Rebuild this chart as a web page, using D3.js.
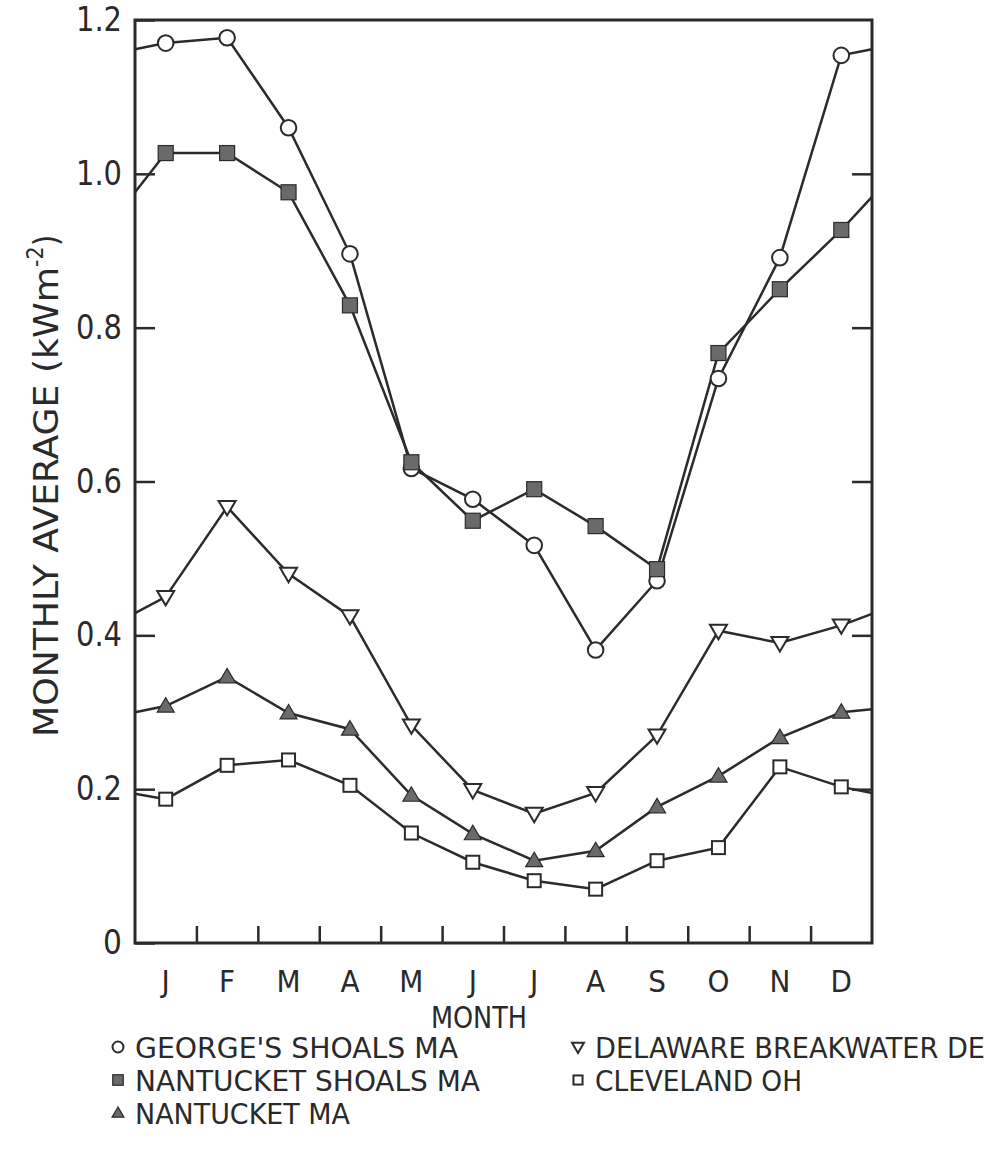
<!DOCTYPE html>
<html>
<head>
<meta charset="utf-8">
<script src="https://cdnjs.cloudflare.com/ajax/libs/d3/7.8.5/d3.min.js"></script>
<style>
  body { margin: 0; background: #fff; }
  text { font-family: "Liberation Sans Narrow", "DejaVu Sans Condensed", sans-serif; fill: #2a2a2a; }
</style>
</head>
<body>
<div id="chart"></div>
<script>
// month initials along the bottom
var months = ["J", "F", "M", "A", "M", "J", "J", "A", "S", "O", "N", "D"];

// monthly averages, kW m-2
var georgesShoals   = [1.170, 1.177, 1.060, 0.896, 0.617, 0.577, 0.517, 0.381, 0.471, 0.734, 0.891, 1.154];
var nantucketShoals = [1.027, 1.027, 0.976, 0.829, 0.625, 0.549, 0.590, 0.542, 0.486, 0.767, 0.850, 0.927];
var delaware        = [0.450, 0.567, 0.480, 0.425, 0.283, 0.199, 0.168, 0.195, 0.270, 0.406, 0.390, 0.413];
var nantucket       = [0.308, 0.346, 0.299, 0.278, 0.192, 0.142, 0.107, 0.120, 0.177, 0.217, 0.267, 0.300];
var cleveland       = [0.187, 0.231, 0.238, 0.205, 0.143, 0.105, 0.081, 0.070, 0.107, 0.124, 0.229, 0.203];

// where each curve meets the left / right frame (same order as seriesNames)
var edgeLeft  = [1.162, 0.976, 0.300, 0.429, 0.194];
var edgeRight = [1.162, 0.970, 0.304, 0.428, 0.195];

var seriesNames = ["GEORGE'S SHOALS MA", "NANTUCKET SHOALS MA", "NANTUCKET MA",
                   "DELAWARE BREAKWATER DE", "CLEVELAND OH"];

var yTicks = [0, 0.2, 0.4, 0.6, 0.8, 1.0, 1.2];
var yTickLabels = ["0", "0.2", "0.4", "0.6", "0.8", "1.0", "1.2"];

var width = 997, height = 1151;
var ink = "#2b2b2b", grayFill = "#6a6a6a";

var svg = d3.select("#chart").append("svg")
  .attr("width", width).attr("height", height);

var x = d3.scaleLinear().domain([0, 12]).range([135, 872]);
var y = d3.scaleLinear().domain([0, 1.2]).range([943, 20]);

// series table (marker type per station)
var marks = ["circle", "squareFill", "triUp", "triDown", "square"];
var series = [georgesShoals, nantucketShoals, nantucket, delaware, cleveland].map(function(v, i){
  return {name: seriesNames[i], values: v, l: edgeLeft[i], r: edgeRight[i], mark: marks[i]};
});

function drawMark(g, type, cx, cy, s) {
  if (type === "circle") {
    g.append("circle").attr("cx", cx).attr("cy", cy).attr("r", 7.8 * s)
      .attr("fill", "#fff").attr("stroke", ink).attr("stroke-width", 2);
  } else if (type === "squareFill" || type === "square") {
    var h = (type === "squareFill" ? 7.5 : 6.5) * s;
    g.append("rect").attr("x", cx - h).attr("y", cy - h)
      .attr("width", 2 * h).attr("height", 2 * h)
      .attr("fill", type === "squareFill" ? grayFill : "#fff")
      .attr("stroke", ink).attr("stroke-width", type === "squareFill" ? 1.2 : 2);
  } else {
    var d = 8.5 * s, up = type === "triUp" ? 1 : -1;
    var pts = [[cx, cy - up * d], [cx - d, cy + up * d * 0.7], [cx + d, cy + up * d * 0.7]];
    g.append("path").attr("d", "M" + pts.join("L") + "Z")
      .attr("fill", type === "triUp" ? grayFill : "#fff")
      .attr("stroke", ink).attr("stroke-width", type === "triUp" ? 1.2 : 2);
  }
}

// curves
var line = d3.line().x(function(d){ return x(d[0]); }).y(function(d){ return y(d[1]); });
series.forEach(function(s){
  var pts = [[0, s.l]];
  s.values.forEach(function(v, i){ pts.push([i + 0.5, v]); });
  pts.push([12, s.r]);
  svg.append("path").attr("d", line(pts))
    .attr("fill", "none").attr("stroke", ink).attr("stroke-width", 2.5);
});
series.forEach(function(s){
  var g = svg.append("g");
  s.values.forEach(function(v, i){ drawMark(g, s.mark, x(i + 0.5), y(v), 1); });
});

// axes: inward ticks on left, right and bottom
svg.append("g").attr("transform", "translate(135,0)")
  .call(d3.axisLeft(y).tickValues(yTicks).tickSize(-20).tickSizeOuter(0).tickPadding(13)
    .tickFormat(function(d, i){ return yTickLabels[i]; }))
  .call(function(g){
    g.select(".domain").remove();
    g.selectAll("line").attr("stroke", ink).attr("stroke-width", 2.5);
    g.selectAll("text").attr("font-size", 33).attr("fill", ink)
      .style("font-family", "'Liberation Sans Narrow','DejaVu Sans Condensed',sans-serif");
    g.selectAll("text").filter(function(d){ return d > 0; })
      .attr("textLength", 46).attr("lengthAdjust", "spacingAndGlyphs");
  });
svg.append("g").attr("transform", "translate(872,0)")
  .call(d3.axisRight(y).tickValues(yTicks.slice(1, 6)).tickSize(-20).tickSizeOuter(0).tickFormat(""))
  .call(function(g){
    g.select(".domain").remove();
    g.selectAll("line").attr("stroke", ink).attr("stroke-width", 2.5);
  });
svg.append("g").attr("transform", "translate(0,943)")
  .call(d3.axisBottom(x).tickValues(d3.range(1, 12)).tickSize(-17).tickSizeOuter(0).tickFormat(""))
  .call(function(g){
    g.select(".domain").remove();
    g.selectAll("line").attr("stroke", ink).attr("stroke-width", 2.5);
  });

// frame
svg.append("rect").attr("x", x(0)).attr("y", y(1.2))
  .attr("width", x(12) - x(0)).attr("height", y(0) - y(1.2))
  .attr("fill", "none").attr("stroke", ink).attr("stroke-width", 3);

// month labels
svg.selectAll("text.month").data(months).enter().append("text")
  .attr("class", "month")
  .attr("x", function(d, i){ return x(i + 0.5); })
  .attr("y", 992)
  .attr("text-anchor", "middle").attr("font-size", 31)
  .text(function(d){ return d; });

svg.append("text").attr("x", 479).attr("y", 1028)
  .attr("text-anchor", "middle").attr("font-size", 30)
  .attr("textLength", 96).attr("lengthAdjust", "spacingAndGlyphs")
  .text("MONTH");

// y title, rotated, with superscript
var yt = svg.append("text")
  .attr("transform", "translate(58,737) rotate(-90)")
  .attr("font-size", 33);
yt.append("tspan").attr("textLength", 470).attr("lengthAdjust", "spacingAndGlyphs")
  .text("MONTHLY AVERAGE (kWm");
yt.append("tspan").attr("dy", -15).attr("font-size", 23).text("-2");
yt.append("tspan").attr("dy", 15).text(")");

// legend
var legend = [
  {i: 0, x: 118, y: 1047, w: 323},
  {i: 1, x: 118, y: 1080, w: 345},
  {i: 2, x: 118, y: 1113, w: 215},
  {i: 3, x: 578, y: 1047, w: 390},
  {i: 4, x: 578, y: 1080, w: 207}
];
legend.forEach(function(d){
  var g = svg.append("g");
  drawMark(g, series[d.i].mark, d.x, d.y, 0.7);
  g.append("text").attr("x", d.x + 17).attr("y", d.y + 11)
    .attr("font-size", 28)
    .attr("textLength", d.w).attr("lengthAdjust", "spacingAndGlyphs")
    .text(series[d.i].name);
});
</script>
</body>
</html>
